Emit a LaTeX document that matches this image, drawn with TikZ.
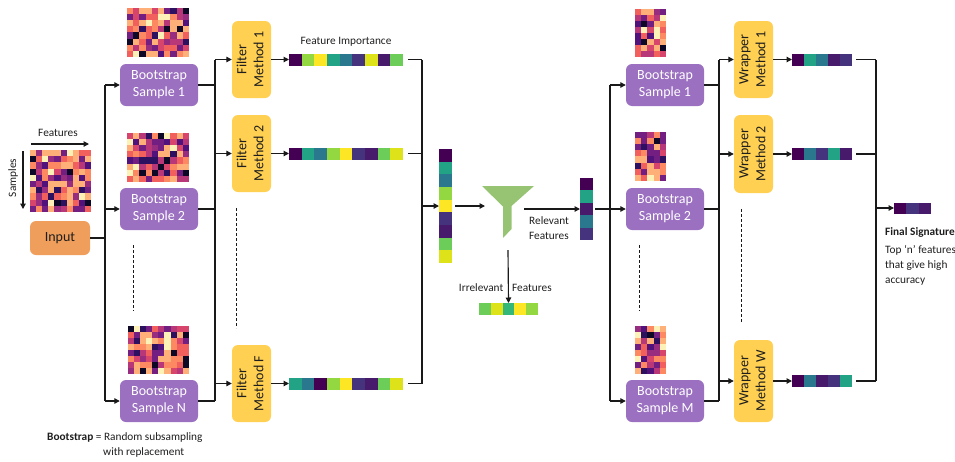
\documentclass[tikz,border=0pt]{standalone}
\usepackage{fontspec}
\usepackage{graphicx}
\setmainfont{Carlito}
\usetikzlibrary{arrows.meta,calc}
\definecolor{boxpurple}{RGB}{155,112,192}
\definecolor{boxyellow}{RGB}{255,208,82}
\definecolor{boxorange}{RGB}{240,158,92}
\definecolor{funnelgreen}{RGB}{150,196,115}
\definecolor{linec}{RGB}{25,25,25}
\definecolor{textc}{RGB}{30,30,30}
% viridis
\definecolor{v1}{HTML}{440154}
\definecolor{v2}{HTML}{481A6C}
\definecolor{v3}{HTML}{46337E}
\definecolor{v4}{HTML}{2A788E}
\definecolor{v5}{HTML}{22A385}
\definecolor{v6}{HTML}{6DCD59}
\definecolor{v7}{HTML}{93D741}
\definecolor{v8}{HTML}{FDE725}
\definecolor{v9}{HTML}{DDE318}
\definecolor{v10}{HTML}{35B779}
% magma
\definecolor{m0}{HTML}{0C0826}
\definecolor{m1}{HTML}{2D1160}
\definecolor{m2}{HTML}{51127C}
\definecolor{m3}{HTML}{721F81}
\definecolor{m4}{HTML}{982D80}
\definecolor{m5}{HTML}{B73779}
\definecolor{m6}{HTML}{D8456C}
\definecolor{m7}{HTML}{F1605D}
\definecolor{m8}{HTML}{FC8961}
\definecolor{m9}{HTML}{FEB078}
\definecolor{m10}{HTML}{FCF2B8}
\pgfmathdeclarerandomlist{mag}{{m0}{m1}{m2}{m3}{m3}{m4}{m5}{m5}{m6}{m7}{m7}{m8}{m8}{m9}{m9}{m9}{m10}}
\newcommand{\featrow}[5]{\foreach \cc [count=\n from 0] in {#5} {\fill[\cc] ({#1+\n*#3},{#2}) rectangle ++(#3,#4);}}
\newcommand{\featcol}[5]{\foreach \cc [count=\n from 0] in {#5} {\fill[\cc] ({#1},{#2+\n*#4}) rectangle ++(#3,#4);}}
\newcommand{\heatmap}[6]{\foreach \i in {1,...,#3} {\foreach \j in {1,...,#4} {\pgfmathrandomitem{\mcol}{mag}\fill[\mcol] ({#1+(\i-1)*#5},{#2+(\j-1)*#6}) rectangle ++(#5,#6);}}}
\newcommand{\bigf}{\fontsize{14}{17}\selectfont}
\newcommand{\smallf}{\fontsize{11.3}{15}\selectfont}
\newcommand{\rottext}[2]{\rotatebox{90}{\begin{tabular}{@{}c@{}}#1\\#2\end{tabular}}}
\tikzset{
  conn/.style={line width=1.15pt, draw=linec},
  arr/.style={conn, -{Triangle[length=5.5pt,width=5.5pt]}},
  dashv/.style={line width=0.9pt, draw=linec, dash pattern=on 3pt off 2pt},
  bsbox/.style={fill=boxpurple, rounded corners=6pt, minimum width=78pt, minimum height=42pt, text=white, font=\bigf, align=center, inner sep=0pt},
  methbox/.style={fill=boxyellow, rounded corners=6pt, minimum width=39pt, minimum height=77pt, text=textc, font=\bigf, inner sep=0pt},
  inbox/.style={fill=boxorange, rounded corners=6pt, minimum width=60pt, minimum height=34pt, text=textc, font=\bigf, inner sep=0pt},
  slot/.style={inner sep=0pt, outer sep=0pt},
  lbl/.style={text=textc, font=\smallf, inner sep=0pt},
}
\begin{document}
\begin{tikzpicture}[x=1pt,y=-1pt]
\useasboundingbox (0,0) rectangle (955,461);
\clip (0,0) rectangle (955,461);
\pgfmathsetseed{11}

% ---------- input ----------
\node[inbox] (inp) at (60,238) {Input};
\heatmap{30}{150}{10}{10}{6.1}{6.2}
\node[lbl] (featlbl) at (58,133) {Features};
\coordinate (fa1) at (31,144);
\coordinate (fa2) at (89,144);
\draw[arr] (fa1) -- (fa2);
\node[lbl, rotate=90] (samplbl) at (13,178) {Samples};
\coordinate (sa1) at (23,151);
\coordinate (sa2) at (23,209);
\draw[arr] (sa1) -- (sa2);

% ---------- bootstrap left ----------
\node[bsbox] (s1) at (159,85) {Bootstrap\\Sample 1};
\node[bsbox] (s2) at (159,209) {Bootstrap\\Sample 2};
\node[bsbox] (sN) at (159,401) {Bootstrap\\Sample N};
\heatmap{127}{8}{10}{8}{6.2}{6.1}
\heatmap{127}{133}{10}{8}{6.2}{6.1}
\heatmap{127.5}{326}{10}{8}{6.15}{6}
\coordinate (dl1) at (133,245);
\coordinate (dl2) at (133,311);
\draw[dashv] (dl1) -- (dl2);

\coordinate (jA) at (105,0);
\draw[conn] (inp.east) -- (inp.east -| jA);
\draw[conn] (s1.west -| jA) -- (sN.west -| jA);
\foreach \s in {s1,s2,sN} \draw[arr] (\s.west -| jA) -- (\s.west);

% ---------- filters ----------
\node[methbox] (f1) at (251.5,59.5) {\rottext{Filter}{Method 1}};
\node[methbox] (f2) at (251.5,153.5) {\rottext{Filter}{Method 2}};
\node[methbox] (fF) at (251.5,383.5) {\rottext{Filter}{Method F}};
\coordinate (dl3) at (236,208);
\coordinate (dl4) at (236,328);
\draw[dashv] (dl3) -- (dl4);

\coordinate (jB) at (215,0);
\foreach \s in {s1,s2,sN} \draw[conn] (\s.east) -- (\s.east -| jB);
\draw[conn] (f1.west -| jB) -- (sN.east -| jB);
\foreach \f in {f1,f2,fF} \draw[arr] (\f.west -| jB) -- (\f.west);

% ---------- feature importance bars ----------
\node[slot, minimum width=114pt, minimum height=12pt] (fb1) at (346,59.5) {};
\node[slot, minimum width=114pt, minimum height=12pt] (fb2) at (346,153.5) {};
\node[slot, minimum width=114pt, minimum height=12pt] (fbF) at (346,383.5) {};
\featrow{289}{53.5}{12.667}{12}{v1,v7,v8,v5,v4,v3,v9,v2,v6}
\featrow{289}{147.5}{12.667}{12}{v1,v5,v4,v7,v8,v3,v2,v6,v9}
\featrow{289}{377.5}{12.667}{12}{v5,v4,v1,v7,v8,v3,v2,v6,v9}
\node[lbl] (filbl) at (346,42) {Feature Importance};
\draw[arr] (f1.east) -- (fb1.west);
\draw[arr] (f2.east) -- (fb2.west);
\draw[arr] (fF.east) -- (fbF.west);

\coordinate (jC) at (422,0);
\foreach \b in {fb1,fb2,fbF} \draw[conn] ([xshift=5pt]\b.east) -- (\b.east -| jC);
\draw[conn] (fb1.east -| jC) -- (fbF.east -| jC);

% ---------- aggregated column ----------
\node[slot, minimum width=13pt, minimum height=114pt] (col) at (445.5,206) {};
\featcol{439}{149}{13}{12.667}{v1,v5,v4,v7,v8,v3,v2,v6,v9}
\draw[arr] (col.west -| jC) -- (col.west);

% ---------- funnel ----------
\node[slot, minimum width=46pt, minimum height=52pt] (fun) at (508,207) {};
\fill[funnelgreen] (482,186) -- (534,186) -- (511.5,206) -- (511.5,229) -- (503,238) -- (503,206.5) -- cycle;
\draw[arr] ([xshift=3pt]col.east) -- (col.east -| fun.west);

% relevant
\node[slot, minimum width=13pt, minimum height=62.5pt] (rel) at (586.5,209) {};
\featcol{580}{177.75}{13}{12.5}{v1,v5,v2,v4,v3}
\coordinate (funout) at (524,209);
\draw[arr] (funout) -- (rel.west);
\node[lbl, anchor=west, align=left] (rellbl) at (529,228.5) {Relevant\\Features};

% irrelevant
\node[slot, minimum width=59pt, minimum height=12pt] (irr) at (508.5,309) {};
\featrow{479}{303}{11.8}{12}{v6,v9,v10,v8,v7}
\coordinate (funbot) at (508,250);
\draw[arr] (funbot) -- (irr.north);
\node[lbl, anchor=east] (irrlbl1) at (503.5,288) {Irrelevant};
\node[lbl, anchor=west] (irrlbl2) at (512,288) {Features};

% ---------- bootstrap right ----------
\node[bsbox] (r1) at (665,85) {Bootstrap\\Sample 1};
\node[bsbox] (r2) at (665,209) {Bootstrap\\Sample 2};
\node[bsbox] (rM) at (665,401) {Bootstrap\\Sample M};
\heatmap{635}{9}{5}{8}{6.2}{6}
\heatmap{635}{132}{5}{8}{6.2}{6.1}
\heatmap{635}{326}{5}{8}{6.2}{6}
\coordinate (dr1) at (639,245);
\coordinate (dr2) at (639,311);
\draw[dashv] (dr1) -- (dr2);

\coordinate (jD) at (610,0);
\draw[conn] ([xshift=2pt]rel.east) -- (rel.east -| jD);
\draw[conn] (r1.west -| jD) -- (rM.west -| jD);
\foreach \s in {r1,r2,rM} \draw[arr] (\s.west -| jD) -- (\s.west);

% ---------- wrappers ----------
\node[methbox] (w1) at (753.5,59.5) {\rottext{Wrapper}{Method 1}};
\node[methbox, minimum height=78pt] (w2) at (753.5,154) {\rottext{Wrapper}{Method 2}};
\node[methbox, minimum height=82pt] (wW) at (753.5,381) {\rottext{Wrapper}{Method W}};
\coordinate (dr3) at (741,209);
\coordinate (dr4) at (741,322);
\draw[dashv] (dr3) -- (dr4);

\coordinate (jE) at (719,0);
\foreach \s in {r1,r2,rM} \draw[conn] (\s.east) -- (\s.east -| jE);
\draw[conn] (w1.west -| jE) -- (rM.east -| jE);
\foreach \w in {w1,w2,wW} \draw[arr] (\w.west -| jE) -- (\w.west);

\node[slot, minimum width=60pt, minimum height=12pt] (wb1) at (822,59.5) {};
\node[slot, minimum width=60pt, minimum height=12pt] (wb2) at (822,154) {};
\node[slot, minimum width=60pt, minimum height=12pt] (wbW) at (822,381) {};
\featrow{792}{53.5}{12}{12}{v1,v5,v4,v2,v3}
\featrow{792}{148}{12}{12}{v1,v4,v3,v5,v2}
\featrow{792}{375}{12}{12}{v1,v4,v2,v3,v5}
\draw[arr] (w1.east) -- (wb1.west);
\draw[arr] (w2.east) -- (wb2.west);
\draw[arr] (wW.east) -- (wbW.west);

\coordinate (jF) at (876,0);
\foreach \b in {wb1,wb2,wbW} \draw[conn] ([xshift=4pt]\b.east) -- (\b.east -| jF);
\draw[conn] (wb1.east -| jF) -- (wbW.east -| jF);

% ---------- final ----------
\node[slot, minimum width=37pt, minimum height=11pt] (fin) at (912.5,208) {};
\featrow{894}{202.5}{12.333}{11}{v1,v3,v2}
\draw[arr] (fin.west -| jF) -- (fin.west);
\node[lbl, anchor=west, font=\smallf\bfseries] (finlbl) at (885,232) {Final Signature};
\node[lbl, anchor=west, align=left] (topn) at (885,265) {Top ‘n’ features\\that give high\\accuracy};

% ---------- legend ----------
\node[lbl, anchor=west] (leg1) at (47,438) {\textbf{Bootstrap} = Random subsampling};
\node[lbl, anchor=west] (leg2) at (103,452) {with replacement};
\end{tikzpicture}
\end{document}
